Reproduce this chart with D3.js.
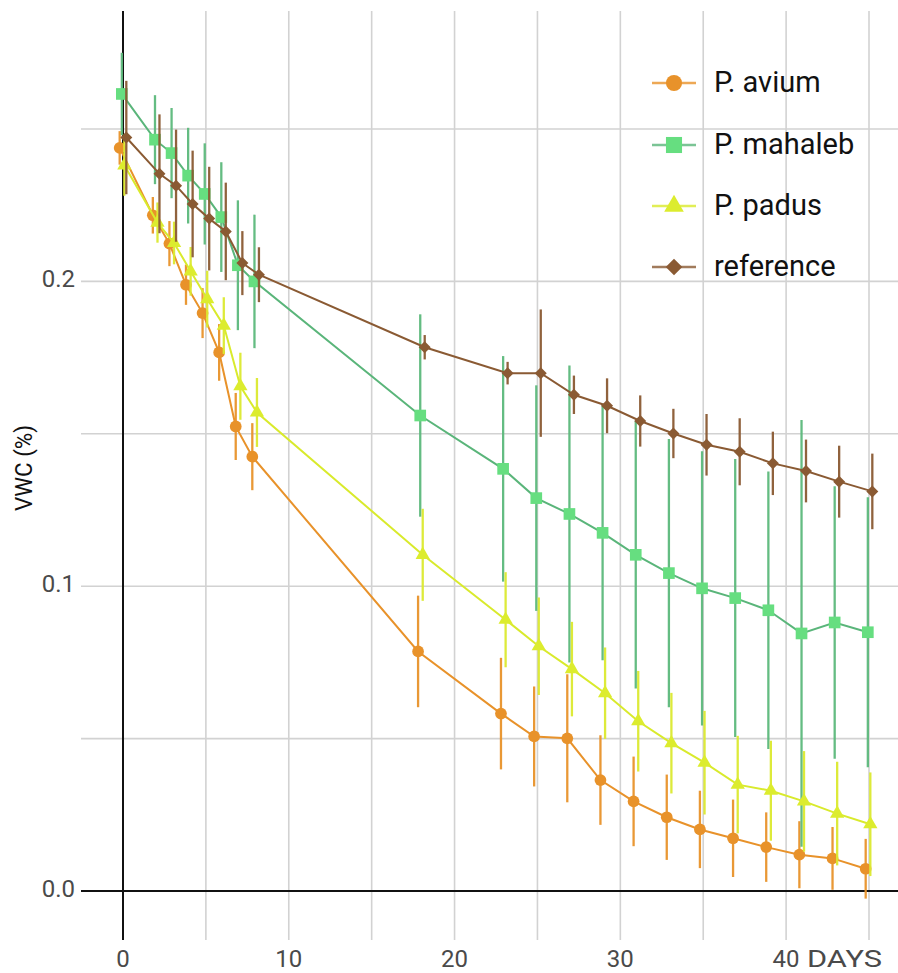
<!DOCTYPE html>
<html>
<head>
<meta charset="utf-8">
<script src="https://cdn.jsdelivr.net/npm/d3@7"></script>
<style>
  html, body { margin: 0; padding: 0; background: #fff; }
  svg { display: block; }
  text { font-family: Roboto, "Liberation Sans", Arial, sans-serif; }
</style>
</head>
<body>
<svg id="chart" width="898" height="973"></svg>
<script>
// Sampling days
const days = [0, 2, 3, 4, 5, 6, 7, 8, 18, 23, 25, 27, 29, 31, 33, 35, 37, 39, 41, 43, 45];

// Volumetric water content (mean) and error per series
const avium = [0.2438, 0.2217, 0.2124, 0.1989, 0.1896, 0.1767, 0.1524, 0.1425, 0.0786, 0.0582, 0.0507, 0.0501, 0.0364, 0.0294, 0.0242, 0.0202, 0.0173, 0.0144, 0.0119, 0.0107, 0.0073];
const aviumErr = [0.0055, 0.006, 0.0074, 0.0066, 0.0082, 0.0093, 0.011, 0.011, 0.0183, 0.0183, 0.0164, 0.021, 0.0147, 0.0147, 0.014, 0.0127, 0.0127, 0.0114, 0.011, 0.0103, 0.0098];

const mahaleb = [0.2615, 0.2465, 0.2421, 0.2347, 0.2287, 0.2211, 0.2053, 0.2, 0.156, 0.1385, 0.1289, 0.1237, 0.1175, 0.1103, 0.1043, 0.0993, 0.0961, 0.0921, 0.0845, 0.0881, 0.0849];
const mahalebErr = [0.0135, 0.0146, 0.0148, 0.0157, 0.0166, 0.018, 0.0213, 0.0219, 0.0332, 0.037, 0.037, 0.0487, 0.0418, 0.0439, 0.044, 0.045, 0.0456, 0.0455, 0.070, 0.0447, 0.0443];

const padus = [0.2381, 0.2193, 0.2126, 0.2033, 0.1942, 0.1855, 0.1656, 0.157, 0.1103, 0.089, 0.0803, 0.0728, 0.0649, 0.0557, 0.0485, 0.0421, 0.0349, 0.0329, 0.0294, 0.0254, 0.0219];
const padusErr = [0.01, 0.0066, 0.007, 0.008, 0.0093, 0.0093, 0.011, 0.0113, 0.0151, 0.0156, 0.016, 0.0155, 0.015, 0.0165, 0.0165, 0.017, 0.016, 0.0164, 0.0165, 0.017, 0.017];

const reference = [0.2472, 0.2353, 0.2314, 0.2254, 0.2206, 0.2164, 0.206, 0.2022, 0.1784, 0.1699, 0.1699, 0.1628, 0.1592, 0.1542, 0.1501, 0.1464, 0.1441, 0.1403, 0.1378, 0.1343, 0.1311];
const referenceErr = [0.0186, 0.0195, 0.0184, 0.0175, 0.017, 0.016, 0.0105, 0.009, 0.004, 0.0037, 0.0209, 0.0063, 0.009, 0.0084, 0.0081, 0.0101, 0.011, 0.0104, 0.0103, 0.0118, 0.0124];

const seriesNames = ["P. avium", "P. mahaleb", "P. padus", "reference"];
const xTickLabels = [0, 10, 20, 30, 40];
const yTickLabels = [0.0, 0.1, 0.2];

// Series styling and horizontal dodge (in days)
const series = [
  { name: seriesNames[0], values: avium, err: aviumErr, line: "#e8922a", fill: "#e8922a", bar: "#e8922a", symbol: d3.symbolCircle, size: 108, rot: 0, dodge: -0.2 },
  { name: seriesNames[1], values: mahaleb, err: mahalebErr, line: "#5ab57a", fill: "#66de80", bar: "#5cb87b", symbol: d3.symbolSquare, size: 136, rot: 0, dodge: -0.07 },
  { name: seriesNames[2], values: padus, err: padusErr, line: "#d9ea2c", fill: "#dcec2e", bar: "#dbe92f", symbol: d3.symbolTriangle, size: 88, rot: 0, dodge: 0.08 },
  { name: seriesNames[3], values: reference, err: referenceErr, line: "#8a5a33", fill: "#8a5a33", bar: "#8a5a33", symbol: d3.symbolSquare, size: 72, rot: 45, dodge: 0.2 }
];

const svg = d3.select("#chart");

const x = d3.scaleLinear().domain([0, 45]).range([123, 869]);
const y = d3.scaleLinear().domain([0, 0.25]).range([891, 129]);

const plotLeft = 81, plotRight = 898, plotTop = 11, plotBottom = 940;

// Grid
const grid = svg.append("g");
grid.selectAll("line.vx")
  .data(d3.range(5, 46, 5))
  .join("line")
  .attr("x1", d => x(d)).attr("x2", d => x(d))
  .attr("y1", plotTop).attr("y2", plotBottom)
  .attr("stroke", "#d2d2d2").attr("stroke-width", 1.6);
grid.selectAll("line.hy")
  .data([0.05, 0.1, 0.15, 0.2, 0.25])
  .join("line")
  .attr("x1", plotLeft).attr("x2", plotRight)
  .attr("y1", d => y(d)).attr("y2", d => y(d))
  .attr("stroke", "#d2d2d2").attr("stroke-width", 1.6);

// Axis lines through the origin
svg.append("line")
  .attr("x1", x(0)).attr("x2", x(0)).attr("y1", plotTop).attr("y2", plotBottom)
  .attr("stroke", "#111").attr("stroke-width", 2);
svg.append("line")
  .attr("x1", plotLeft).attr("x2", plotRight).attr("y1", y(0)).attr("y2", y(0))
  .attr("stroke", "#111").attr("stroke-width", 2);

// Tick labels
svg.append("g").selectAll("text")
  .data(yTickLabels)
  .join("text")
  .attr("x", 75).attr("y", d => y(d) + 6)
  .attr("text-anchor", "end")
  .attr("font-size", 24).attr("fill", "#4a4a4a")
  .text(d => d3.format(".1f")(d));

svg.append("g").selectAll("text")
  .data(xTickLabels)
  .join("text")
  .attr("x", d => x(d)).attr("y", 967)
  .attr("text-anchor", "middle")
  .attr("font-size", 24).attr("fill", "#4a4a4a")
  .text(d => d);

svg.append("text")
  .attr("x", 807).attr("y", 967)
  .attr("font-size", 24).attr("fill", "#4a4a4a")
  .attr("textLength", 75).attr("lengthAdjust", "spacingAndGlyphs")
  .text("DAYS");

svg.append("text")
  .attr("transform", "translate(32,468) rotate(-90)")
  .attr("text-anchor", "middle")
  .attr("font-size", 24).attr("fill", "#111")
  .attr("textLength", 86).attr("lengthAdjust", "spacingAndGlyphs")
  .text("VWC (%)");

// Series: error bars, connecting line, markers
const lineGen = d3.line().x(d => x(d.day)).y(d => y(d.v));

series.forEach(s => {
  const pts = days.map((day, i) => ({ day: day + s.dodge, v: s.values[i], e: s.err[i] }));
  const g = svg.append("g");
  g.selectAll("line.err")
    .data(pts)
    .join("line")
    .attr("x1", d => x(d.day)).attr("x2", d => x(d.day))
    .attr("y1", d => y(d.v + d.e)).attr("y2", d => y(d.v - d.e))
    .attr("stroke", s.bar).attr("stroke-width", 2.3).attr("stroke-opacity", 0.95);
  g.append("path")
    .datum(pts)
    .attr("d", lineGen)
    .attr("fill", "none")
    .attr("stroke", s.line).attr("stroke-width", 2);
  g.selectAll("path.mark")
    .data(pts)
    .join("path")
    .attr("d", d3.symbol().type(s.symbol).size(s.size))
    .attr("transform", d => `translate(${x(d.day)},${y(d.v)}) rotate(${s.rot})`)
    .attr("fill", s.fill);
});

// Legend
const legend = svg.append("g");
const rowsY = [83, 145, 206, 267];
series.forEach((s, i) => {
  const row = legend.append("g").attr("transform", `translate(0,${rowsY[i]})`);
  row.append("line")
    .attr("x1", 652).attr("x2", 696).attr("y1", 0).attr("y2", 0)
    .attr("stroke", s.line).attr("stroke-width", 2.4).attr("stroke-opacity", 0.8);
  row.append("path")
    .attr("d", d3.symbol().type(s.symbol).size(s.size * 1.9))
    .attr("transform", `translate(674,0) rotate(${s.rot})`)
    .attr("fill", s.fill);
  row.append("text")
    .attr("x", 714).attr("y", 9)
    .attr("font-size", 29).attr("fill", "#111")
    .text(s.name);
});
</script>
</body>
</html>
